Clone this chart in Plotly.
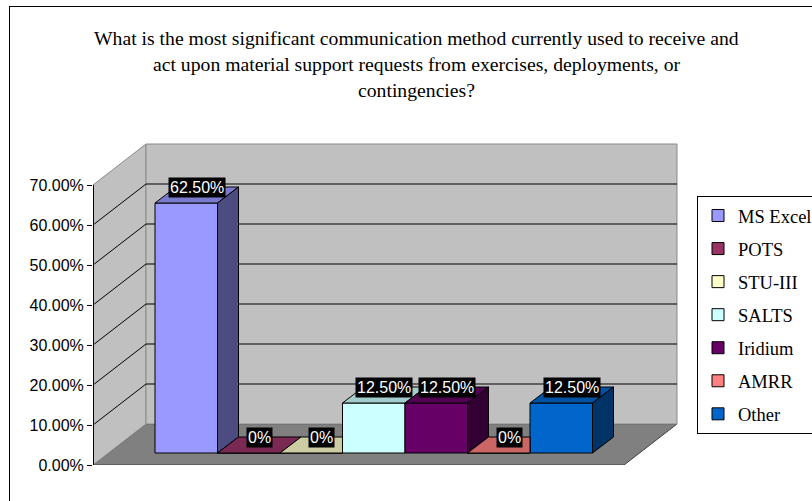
import plotly.graph_objects as go

# ---------------- data ----------------
categories = ["MS Excel", "POTS", "STU-III", "SALTS", "Iridium", "AMRR", "Other"]
values = [62.5, 0, 0, 12.5, 12.5, 0, 12.5]
value_labels = ["62.50%", "0%", "0%", "12.50%", "12.50%", "0%", "12.50%"]
colors = ["#9999FF", "#993366", "#FFFFCC", "#CCFFFF", "#660066", "#FF8080", "#0066CC"]
tick_values = [0, 10, 20, 30, 40, 50, 60, 70]
tick_labels = ["0.00%", "10.00%", "20.00%", "30.00%", "40.00%", "50.00%", "60.00%", "70.00%"]
title_lines = [
    "What is the most significant communication method currently used to receive and",
    "act upon material support requests from exercises, deployments, or",
    "contingencies?",
]

# ---------------- layout geometry (pixels) ----------------
W, H = 812, 501
ML, MR, MT, MB = 93, 131, 142, 36
PW, PH = W - ML - MR, H - MT - MB
XPX, YPX = 62.5, 4.0              # px per category / px per percent
BAR0_PX = 186.25                  # centre of first bar (bar plane)
BAR_DX0, BAR_DY0 = 15.5 / XPX, 12 / YPX   # front plane -> bar plane
BDX, BDY = 21 / XPX, 16 / YPX     # bar depth
WDX, WDY = 53 / XPX, 41 / YPX     # wall depth
YMAX = tick_values[-1]

x2_range = [(ML - BAR0_PX) / XPX, (ML + PW - BAR0_PX) / XPX]
x_range = [x2_range[0] + BAR_DX0, x2_range[1] + BAR_DX0]
y_range = [0, PH / YPX]
y2_range = [-BAR_DY0, PH / YPX - BAR_DY0]

X0 = x_range[0]
XB = X0 + WDX
XR = X0 + (677 - ML) / XPX
XF = XR - WDX


def px2paper_x(px):
    return (px - ML) / PW


def px2paper_y(py):
    return (H - MB - py) / PH


def shade(hexcol, f):
    h = hexcol.lstrip("#")
    r, g, b = (int(h[i:i + 2], 16) for i in (0, 2, 4))
    return "rgb(%d,%d,%d)" % (round(r * f), round(g * f), round(b * f))


fig = go.Figure()

# floor
fig.add_trace(go.Scatter(
    x=[X0, XF, XR, XB, X0], y=[0, 0, WDY, WDY, 0], mode="lines", fill="toself",
    fillcolor="#808080", line=dict(color="#404040", width=1),
    showlegend=False, hoverinfo="skip"))
# side wall
fig.add_trace(go.Scatter(
    x=[X0, X0, XB, XB, X0], y=[0, YMAX, YMAX + WDY, WDY, 0], mode="lines", fill="toself",
    fillcolor="#C0C0C0", line=dict(color="#8A8A8A", width=1),
    showlegend=False, hoverinfo="skip"))
# back wall
fig.add_trace(go.Scatter(
    x=[XB, XB, XR, XR, XB], y=[WDY, YMAX + WDY, YMAX + WDY, WDY, WDY], mode="lines", fill="toself",
    fillcolor="#C0C0C0", line=dict(color="#8A8A8A", width=1),
    showlegend=False, hoverinfo="skip"))
# gridlines
gx, gy = [], []
for v in tick_values:
    if 0 < v < YMAX:
        gx += [X0, XB, XR, None]
        gy += [v, v + WDY, v + WDY, None]
fig.add_trace(go.Scatter(x=gx, y=gy, mode="lines", line=dict(color="black", width=1),
                         showlegend=False, hoverinfo="skip"))
# front value-axis line
fig.add_trace(go.Scatter(x=[X0, X0], y=[0, YMAX], mode="lines", line=dict(color="black", width=2),
                         showlegend=False, hoverinfo="skip"))

# bars (front faces) on bar plane axes
for i, (c, v, col) in enumerate(zip(categories, values, colors)):
    fig.add_trace(go.Bar(
        x=[i], y=[v], width=1, name=c, xaxis="x2", yaxis="y2",
        marker=dict(color=col, line=dict(color="black", width=1)),
        legendgroup=c, hoverinfo="skip"))

# top and side faces
n = len(values)
for i, (v, col) in enumerate(zip(values, colors)):
    nxt = values[i + 1] if i + 1 < n else None
    L, R = i - 0.5, i + 0.5
    if nxt is not None and nxt >= v + BDY:
        tx = [L, R, R, L + BDX, L]
        ty = [v, v, v + BDY, v + BDY, v]
    else:
        tx = [L, R, R + BDX, L + BDX, L]
        ty = [v, v, v + BDY, v + BDY, v]
    fig.add_trace(go.Scatter(
        x=tx, y=ty, xaxis="x2", yaxis="y2", mode="lines", fill="toself",
        fillcolor=shade(col, 0.8), line=dict(color="black", width=1),
        showlegend=False, hoverinfo="skip"))
    lo = 0 if nxt is None else min(v, nxt)
    if lo < v:
        fig.add_trace(go.Scatter(
            x=[R, R, R + BDX, R + BDX, R], y=[lo, v, v + BDY, lo + BDY, lo],
            xaxis="x2", yaxis="y2", mode="lines", fill="toself",
            fillcolor=shade(col, 0.5), line=dict(color="black", width=1),
            showlegend=False, hoverinfo="skip"))

annotations = []
for i, (v, lab) in enumerate(zip(values, value_labels)):
    annotations.append(dict(
        x=i + BDX / 2, y=v + BDY, xref="x2", yref="y2", text=lab, showarrow=False,
        font=dict(family="Liberation Sans, Arial", size=16, color="white"),
        bgcolor="black", borderpad=1, xanchor="center", yanchor="middle"))

for k, (line, py) in enumerate(zip(title_lines, [38, 64, 90])):
    annotations.append(dict(
        x=px2paper_x(416), y=px2paper_y(py), xref="paper", yref="paper", text=line,
        showarrow=False, xanchor="center", yanchor="middle",
        font=dict(family="Liberation Serif, Times New Roman", size=19.7, color="black")))

shapes = [
    dict(type="line", xref="paper", yref="paper", x0=px2paper_x(9), x1=px2paper_x(812),
         y0=px2paper_y(6.5), y1=px2paper_y(6.5), line=dict(color="black", width=1)),
    dict(type="line", xref="paper", yref="paper", x0=px2paper_x(9.5), x1=px2paper_x(9.5),
         y0=px2paper_y(6.5), y1=px2paper_y(501), line=dict(color="black", width=1)),
]

fig.update_layout(
    width=W, height=H,
    margin=dict(l=ML, r=MR, t=MT, b=MB, autoexpand=False),
    paper_bgcolor="white", plot_bgcolor="white",
    barmode="overlay",
    showlegend=True,
    legend=dict(
        x=px2paper_x(697), y=px2paper_y(196), xanchor="left", yanchor="top",
        bgcolor="white", bordercolor="black", borderwidth=1,
        font=dict(family="Liberation Serif, Times New Roman", size=18.5, color="black"),
        tracegroupgap=6, traceorder="grouped"),
    xaxis=dict(range=x_range, visible=False, fixedrange=True),
    yaxis=dict(range=y_range, tickvals=tick_values, ticktext=tick_labels,
               showgrid=False, zeroline=False, showline=False,
               ticks="outside", ticklen=5, tickcolor="black", tickwidth=1,
               tickfont=dict(family="Liberation Sans, Arial", size=16, color="black"),
               fixedrange=True),
    xaxis2=dict(range=x2_range, overlaying="x", visible=False, fixedrange=True),
    yaxis2=dict(range=y2_range, overlaying="y", visible=False, fixedrange=True),
    annotations=annotations,
    shapes=shapes,
)

fig.write_html(
    "out.html",
    config={"displayModeBar": False},
    post_script="document.body.style.margin='0px';document.body.style.overflow='hidden';",
)
